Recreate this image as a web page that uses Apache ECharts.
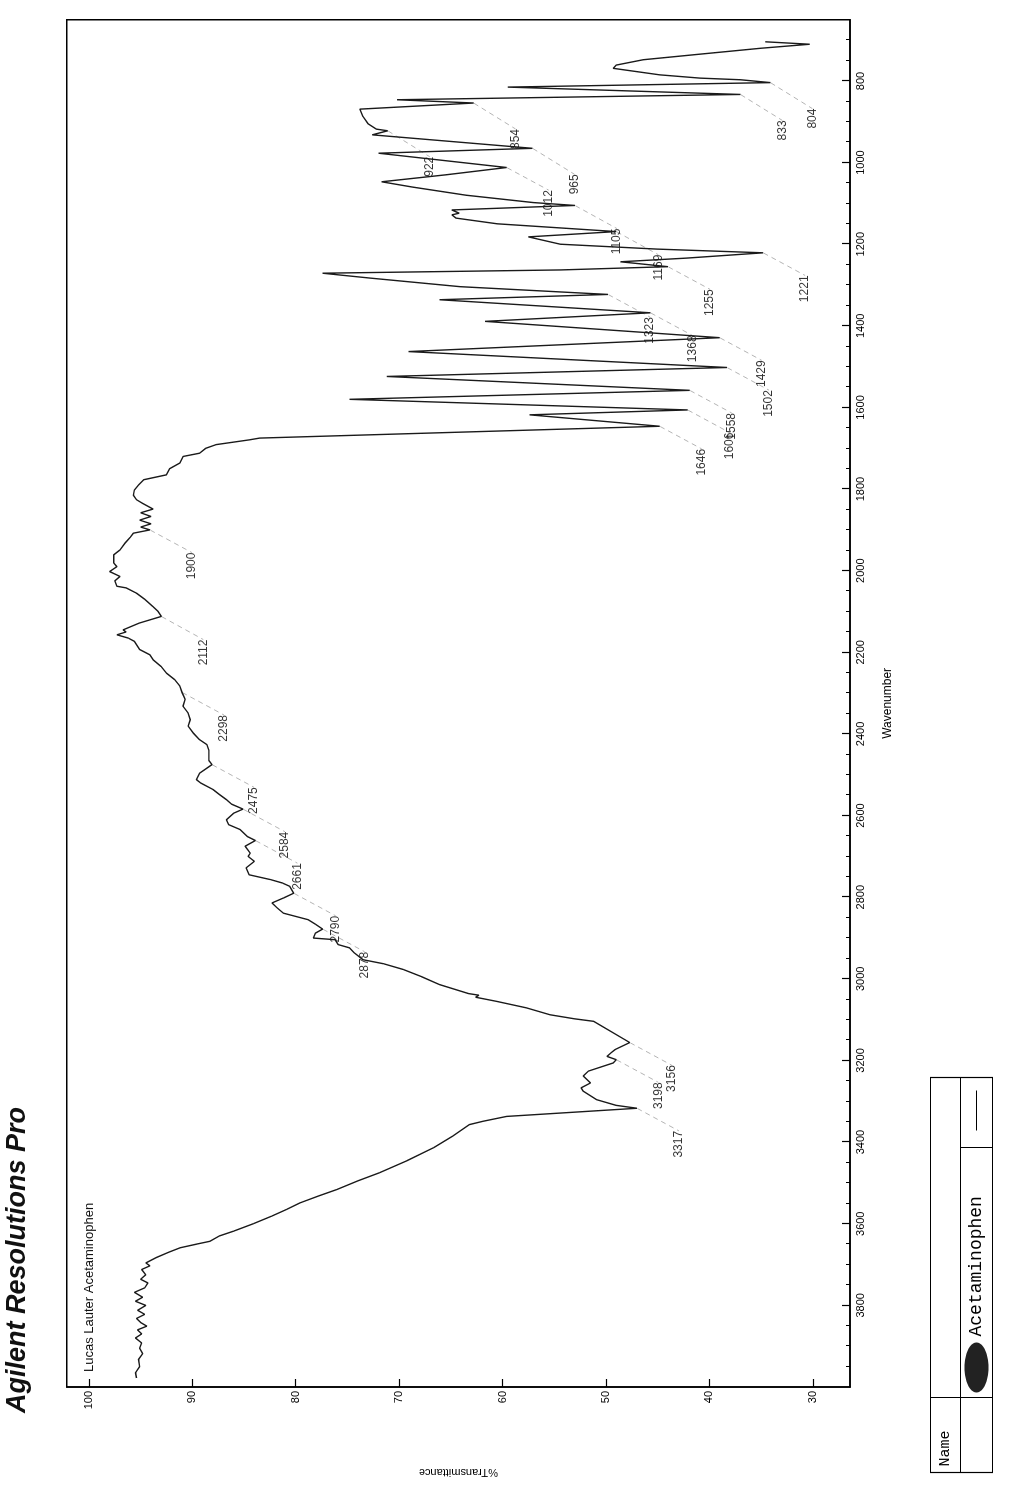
<!DOCTYPE html>
<html>
<head>
<meta charset="utf-8">
<script src="https://cdn.jsdelivr.net/npm/echarts@6/dist/echarts.min.js"></script>
<style>
  html, body { margin:0; padding:0; background:#fff; width:1017px; height:1486px; overflow:hidden; }
  #chart { position:absolute; left:0; top:0; width:1486px; height:1017px;
           transform-origin:0 0; transform:translate(0px,1486px) rotate(-90deg); }
</style>
</head>
<body>
<div id="chart"></div>
<script>
// ---- data (wavenumber cm-1, %T) ----
const wavenumber = [
 3978,3965,3950,3932,3918,3905,3892,3880,3870,3860,3851,3842,3832,3822,3812,3800,3790,3780,3768,3757,
 3745,3736,3725,3712,3703,3696,3683,3670,3659,3650,3643,3630,3618,3600,3581,3565,3549,3532,3516,3495,
 3475,3445,3414,3385,3357,3349,3337,3317,3310,3296,3275,3267,3255,3238,3226,3206,3198,3190,3181,3173,
 3156,3104,3098,3088,3071,3055,3045,3040,3036,3014,2995,2977,2963,2953,2935,2924,2916,2904,2900,2888,
 2878,2866,2855,2839,2826,2814,2802,2790,2773,2765,2757,2745,2728,2712,2700,2692,2675,2661,2651,2634,
 2622,2610,2594,2584,2572,2561,2548,2536,2520,2512,2496,2475,2465,2440,2426,2414,2398,2381,2365,2349,
 2332,2315,2298,2283,2267,2251,2235,2218,2206,2193,2173,2165,2157,2150,2145,2128,2112,2100,2088,2070,
 2055,2042,2038,2025,2014,2002,1990,1981,1961,1949,1932,1918,1908,1900,1893,1885,1876,1867,1858,1849,
 1835,1826,1815,1802,1790,1777,1765,1750,1736,1720,1712,1700,1691,1679,1675,1646,1618,1606,1580,1558,
 1524,1502,1463,1429,1389,1368,1336,1323,1304,1283,1276,1271,1263,1255,1243,1234,1221,1212,1200,1182,
 1169,1150,1136,1128,1124,1116,1105,1098,1080,1060,1047,1030,1012,977,965,932,922,918,905,887,
 869,854,846,833,815,804,797,793,785,769,761,748,736,720,710,704
];
const transmittance = [
 95.4,95.5,95.1,95.2,94.8,95.1,94.9,95.5,94.9,95.3,94.4,95.0,95.4,94.6,95.3,94.5,95.5,94.8,95.6,94.6,
 94.3,95.0,94.5,94.9,94.1,94.5,93.5,92.3,91.2,89.6,88.3,87.4,86.0,84.1,82.3,80.9,79.6,77.8,76.0,74.0,
 71.9,69.2,66.7,64.8,63.2,61.9,59.6,47.0,49.0,50.9,52.2,52.4,51.5,52.2,51.7,49.3,49.0,49.9,49.5,49.1,
 47.7,51.2,53.0,55.4,57.7,60.6,62.6,62.3,63.3,66.1,67.8,69.6,71.5,73.5,74.4,74.8,75.9,76.2,78.3,78.1,
 77.4,78.1,78.8,81.2,81.8,82.3,81.2,80.2,80.6,81.3,82.4,84.5,84.8,84.0,84.6,84.4,84.9,83.9,84.7,85.4,
 86.5,86.7,86.0,85.1,86.2,86.7,87.4,88.0,89.2,89.6,89.3,88.1,88.4,88.4,88.6,89.3,89.9,90.4,90.2,90.4,
 90.9,90.7,91.0,91.2,91.7,92.5,93.0,93.8,94.1,95.1,95.6,96.2,97.3,96.4,96.7,95.1,93.0,93.3,93.8,94.6,
 95.4,96.4,97.3,97.5,97.0,98.0,97.3,97.6,97.6,97.0,96.5,96.0,95.7,94.1,95.0,94.0,95.1,94.0,95.0,93.8,
 94.8,95.4,95.7,95.6,95.2,94.7,92.5,92.2,91.2,90.9,89.3,88.7,87.7,84.4,83.5,44.8,57.4,42.1,74.8,41.9,
 71.2,38.3,69.1,39.0,61.7,45.7,66.1,49.8,64.1,72.8,75.5,77.4,54.4,44.0,48.6,42.2,34.8,45.0,54.4,57.5,
 49.0,60.5,64.5,64.9,64.2,64.9,53.0,57.0,63.5,68.7,71.7,65.5,59.6,72.0,57.1,72.6,71.1,72.2,73.0,73.5,
 73.8,62.8,70.2,37.0,59.5,34.1,37.0,40.9,44.8,49.3,49.0,46.4,41.6,35.1,30.3,34.6
];
// labelled peaks
const peakWavenumber = [804,833,854,922,965,1012,1105,1169,1221,1255,1323,1368,1429,1502,1558,1606,1646,
  1900,2112,2298,2475,2584,2661,2790,2878,3156,3198,3317];
// tick labels
const wavenumberTicks = [800,1000,1200,1400,1600,1800,2000,2200,2400,2600,2800,3000,3200,3400,3600,3800];
const wavenumberMinorTicks = [];
for (let w = 700; w <= 3950; w += 50) if (w % 200 !== 0) wavenumberMinorTicks.push(w);
const transmittanceTicks = [30,40,50,60,70,80,90,100];
const titleText = 'Agilent Resolutions Pro';
const sampleText = 'Lucas Lauter Acetaminophen';
const legendHeader = 'Name';
const legendName = 'Acetaminophen';

const spectrum = wavenumber.map((w, i) => [w, transmittance[i]]);
const peaks = peakWavenumber.map(w => [w, transmittance[wavenumber.indexOf(w)]]);

const chart = echarts.init(document.getElementById('chart'), null, {renderer:'canvas'});
const FONT = 'Liberation Sans, Arial, sans-serif';
const MONO = 'Liberation Mono, Courier New, monospace';
const axisFont = {fontFamily:FONT, fontSize:11, color:'#000', formatter:v => String(v)};
chart.setOption({
  animation:false,
  backgroundColor:'#fff',
  grid:{left:98.4, right:19.75, top:66.7, bottom:167, show:true, borderColor:'#000', borderWidth:1.5},
  xAxis:[{
    type:'value', min:650, max:4000, inverse:true, position:'bottom',
    name:'Wavenumber', nameLocation:'middle', nameGap:32,
    nameTextStyle:{fontFamily:FONT, fontSize:12, color:'#000'},
    axisLine:{show:true, lineStyle:{color:'#000', width:1.5}},
    axisTick:{show:true, inside:true, length:8, customValues:wavenumberTicks, lineStyle:{color:'#000', width:1.2}},
    axisLabel:Object.assign({show:true, customValues:wavenumberTicks, margin:5}, axisFont),
    splitLine:{show:false}
  },{
    type:'value', min:650, max:4000, inverse:true, position:'bottom',
    axisLine:{show:false},
    axisTick:{show:true, inside:true, length:4, customValues:wavenumberMinorTicks, lineStyle:{color:'#000', width:1}},
    axisLabel:{show:false}, splitLine:{show:false}
  }],
  yAxis:{
    type:'value', min:26.4, max:102.15,
    name:'%Transmittance', nameLocation:'middle', nameGap:80,
    nameTextStyle:{fontFamily:FONT, fontSize:11, color:'#000'},
    axisLine:{show:true, lineStyle:{color:'#000', width:1.5}},
    axisTick:{show:true, inside:true, length:8, customValues:transmittanceTicks, lineStyle:{color:'#000', width:1.2}},
    axisLabel:Object.assign({show:true, customValues:transmittanceTicks, margin:4}, axisFont),
    splitLine:{show:false}
  },
  series:[{
    type:'line', xAxisIndex:0, data:spectrum, showSymbol:false, symbol:'none',
    lineStyle:{color:'#1a1a1a', width:1.4}, z:3
  },{
    type:'scatter', xAxisIndex:0, data:peaks, symbol:'circle', symbolSize:1,
    itemStyle:{color:'rgba(0,0,0,0)'},
    label:{show:true, position:'inside', formatter:p => String(p.value[0]),
      fontFamily:FONT, fontSize:12, color:'#000'},
    labelLayout:{dx:-36, dy:42, hideOverlap:false},
    labelLine:{show:true, lineStyle:{color:'#b5b5b5', width:1, type:[5,4]}},
    z:2
  }],
  graphic:[
    {type:'text', left:73, top:4, style:{text:titleText, fontFamily:FONT,
      fontSize:27, fontWeight:'bold', fontStyle:'italic', fill:'#111'}},
    {type:'text', left:114, top:83, style:{text:sampleText, fontFamily:FONT,
      fontSize:13, fill:'#111'}},
    // legend table (below the plot, left)
    {type:'group', left:11, top:928, children:[
      {type:'rect', shape:{x:0, y:0, width:395, height:62}, style:{fill:'#fff', stroke:'#000', lineWidth:1.2}},
      {type:'line', shape:{x1:0, y1:30, x2:395, y2:30}, style:{stroke:'#000', lineWidth:1}},
      {type:'line', shape:{x1:75, y1:0, x2:75, y2:62}, style:{stroke:'#000', lineWidth:1}},
      {type:'line', shape:{x1:325, y1:30, x2:325, y2:62}, style:{stroke:'#000', lineWidth:1}},
      {type:'text', x:6, y:15, style:{text:legendHeader, fontFamily:MONO, fontSize:15, fill:'#000', textVerticalAlign:'middle'}},
      {type:'ellipse', shape:{cx:105, cy:46, rx:25, ry:12}, style:{fill:'#222'}},
      {type:'text', x:136, y:46, style:{text:legendName, fontFamily:MONO, fontSize:18, fill:'#000', textVerticalAlign:'middle'}},
      {type:'line', shape:{x1:342, y1:46, x2:382, y2:46}, style:{stroke:'#000', lineWidth:1}}
    ]}
  ]
});
</script>
</body>
</html>
